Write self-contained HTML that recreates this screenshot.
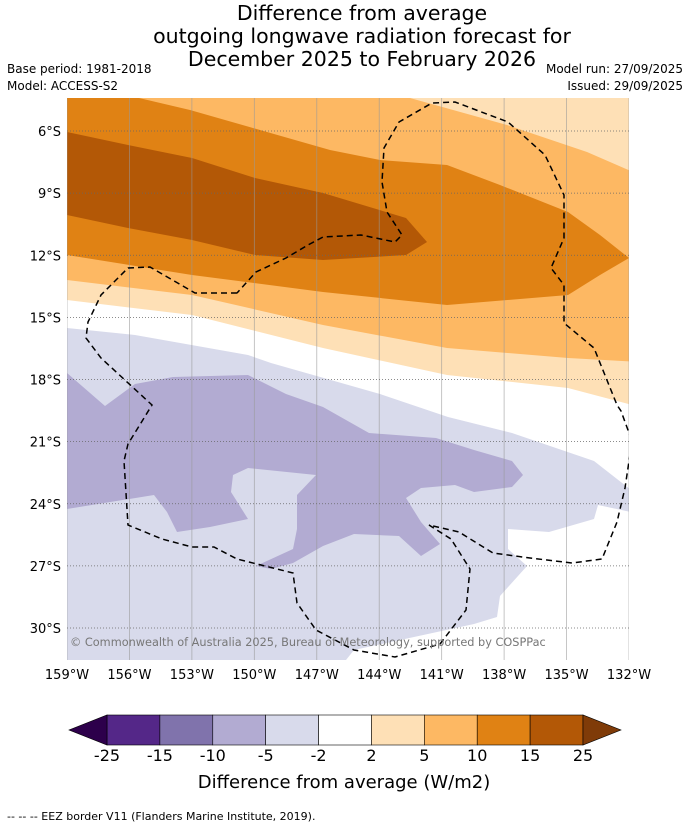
<!DOCTYPE html>
<html><head><meta charset="utf-8"><style>
body{margin:0;background:#fff;width:690px;height:827px;overflow:hidden;font-family:"DejaVu Sans",sans-serif}
</style></head><body>
<svg width="690" height="827" xmlns="http://www.w3.org/2000/svg" font-family="DejaVu Sans, sans-serif">
<g font-size="20.5" text-anchor="middle" fill="#000">
<text x="362" y="20">Difference from average</text>
<text x="362" y="43">outgoing longwave radiation forecast for</text>
<text x="362" y="66">December 2025 to February 2026</text>
</g>
<g font-size="12" fill="#000">
<text x="7" y="73">Base period: 1981-2018</text>
<text x="7" y="90">Model: ACCESS-S2</text>
<text x="683" y="73" text-anchor="end">Model run: 27/09/2025</text>
<text x="683" y="90" text-anchor="end">Issued: 29/09/2025</text>
</g>
<defs><clipPath id="mc"><rect x="67" y="98" width="562" height="562"/></clipPath></defs>
<g clip-path="url(#mc)">
<rect x="67" y="98" width="562" height="562" fill="#fff"/>
<polygon fill="#fee0b6" points="60,90 640,90 640,407 568,388 447,375 323,348 192,315 67,300 60,300"/>
<polygon fill="#fdb863" points="60,90 410,90 410,98 507,125 587,152 640,175 640,362 568,358 447,348 323,325 192,295 67,280 60,280"/>
<polygon fill="#e08214" points="60,90 139,90 139,98 190,110 260,130 330,150 380,160 447,165 500,185 568,212 600,235 629,258 600,275 568,295 447,305 323,292 192,275 67,255 60,255"/>
<polygon fill="#b35806" points="60,130 67,132 128,145 192,158 255,178 323,193 406,218 427,242 406,255 323,260 255,255 192,240 128,228 67,215 60,215"/>
<polygon fill="#d8daeb" points="60,328 67,328 135,335 248,355 271,363 380,394 448,417 512,433 594,461 640,497 640,514 598,505 594,519 549,532 508,529 508,549 527,566 500,596 497,617 474,624 354,650 342,665 60,665"/>
<polygon fill="#b2abd2" points="60,373 67,373 105,406 135,384 173,377 248,375 286,394 323,407 369,433 436,438 474,450 512,461 523,475 512,487 474,492 455,485 421,488 406,498 421,522 440,544 421,556 399,536 354,534 323,546 293,563 271,569 256,566 293,549 297,529 297,495 316,475 248,468 233,475 231,492 248,519 210,527 177,532 167,512 154,495 67,509 60,509"/>
<g id="grid" stroke-width="0.8"></g>
<path fill="none" stroke="#000" stroke-width="1.5" stroke-dasharray="6,4" d="M237,293 L195,293 150,267 128,268 101,295 88,322 86,338 101,358 152,405 128,444 124,461 128,525 162,539 192,547 214,547 237,559 293,573 297,603 316,630 354,650 395,657 440,644 466,610 470,569 451,539 429,525 459,532 493,553 530,558 572,563 602,559 617,522 625,488 632,441 621,411 617,405 594,348 564,323 564,285 551,268 564,238 564,195 545,155 508,122 455,102 432,103 399,122 384,148 382,182 387,212 402,235 395,242 361,235 323,237 308,245 286,258 256,272 237,293"/>
<text x="70" y="646" font-size="11.3" fill="#777">© Commonwealth of Australia 2025, Bureau of Meteorology, supported by COSPPac</text>
</g>
<g id="axes" font-size="13" fill="#000"></g>
<g id="cbar"></g>
<text x="344" y="788" font-size="18" text-anchor="middle">Difference from average (W/m2)</text>
<text x="7" y="820" font-size="11">-- -- -- EEZ border V11 (Flanders Marine Institute, 2019).</text>
</svg>
<script>
const lonTicks=["159°W","156°W","153°W","150°W","147°W","144°W","141°W","138°W","135°W","132°W"];
const latTicks=["6°S","9°S","12°S","15°S","18°S","21°S","24°S","27°S","30°S"];
const levels=["-25","-15","-10","-5","-2","2","5","10","15","25"];
const colors=["#542788","#8073ac","#b2abd2","#d8daeb","#ffffff","#fee0b6","#fdb863","#e08214","#b35806"];
const NS="http://www.w3.org/2000/svg";
function mk(t,a,p){const e=document.createElementNS(NS,t);for(const k in a)e.setAttribute(k,a[k]);p.appendChild(e);return e;}
const grid=document.getElementById('grid'),axes=document.getElementById('axes'),cb=document.getElementById('cbar');
const xLon=i=>67+i*562/(lonTicks.length-1);
const yLat=i=>131+i*(628-131)/(latTicks.length-1);
lonTicks.forEach((l,i)=>{
 const g=mk('line',{x1:xLon(i),x2:xLon(i),y1:98,y2:660,stroke:'#999','stroke-opacity':0.7},grid);
 
 
 const t=mk('text',{x:xLon(i),y:679,'text-anchor':'middle'},axes);t.textContent=l;
 
 
});
latTicks.forEach((l,i)=>{
 const g=mk('line',{x1:67,x2:629,y1:yLat(i),y2:yLat(i),stroke:'#666','stroke-dasharray':'1,2'},grid);
 
 
 const t=mk('text',{x:61,y:yLat(i)+5,'text-anchor':'end'},axes);t.textContent=l;
 
 
});
const cx0=107,cx1=583,cy=715,ch=30,w=(cx1-cx0)/colors.length;
colors.forEach((c,i)=>{
 const r=mk('rect',{x:cx0+i*w,y:cy,width:w,height:ch,fill:c,stroke:'#000','stroke-width':0.6},cb);
 
 
});
const lt=mk('polygon',{points:`${cx0},${cy} ${cx0},${cy+ch} 69,${cy+ch/2}`,fill:'#2d004b',stroke:'#000','stroke-width':0.6},cb);


const rt=mk('polygon',{points:`${cx1},${cy} ${cx1},${cy+ch} 621,${cy+ch/2}`,fill:'#7f3b08',stroke:'#000','stroke-width':0.6},cb);


levels.forEach((l,i)=>{
 const t=mk('text',{x:cx0+i*w,y:761,'text-anchor':'middle','font-size':16},cb);t.textContent=l;
 
 
});
</script>
</body></html>
